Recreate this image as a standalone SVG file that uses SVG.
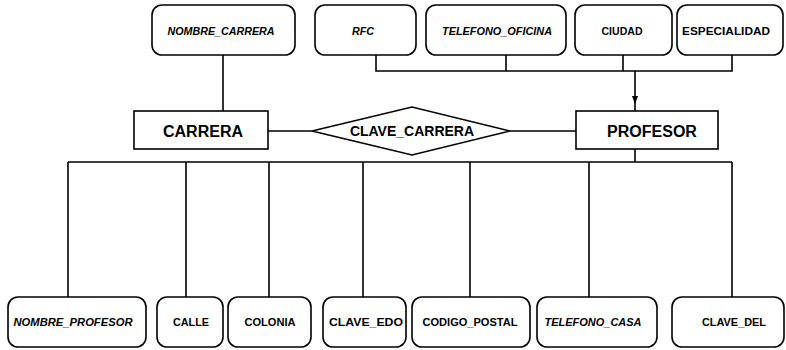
<svg xmlns="http://www.w3.org/2000/svg" width="786" height="350" viewBox="0 0 786 350">
<style>
.attr{fill:#fff;stroke:#000;stroke-width:1.6}
.ent{fill:#fff;stroke:#000;stroke-width:1.6}
.lt{font-family:"Liberation Sans",Arial,sans-serif;font-weight:bold;font-size:10.5px;fill:#000;text-anchor:middle}
.it{font-style:italic}
.et{font-family:"Liberation Sans",Arial,sans-serif;font-weight:bold;font-size:16px;fill:#000;text-anchor:middle}
.rt{font-family:"Liberation Sans",Arial,sans-serif;font-weight:bold;font-size:14px;fill:#000;text-anchor:middle}
.ln{fill:none;stroke:#000;stroke-width:1.6}
</style>
<rect width="786" height="350" fill="#fff"/>
<g id="connectors">
<path class="ln" d="M223,55 V112"/>
<path class="ln" d="M376,55 V71 H732 V55 M506,55 V71 M623,55 V71"/>
<path class="ln" d="M635,71 V111"/>
<polygon points="632,96 638,96 635,104" fill="#000"/>
<path class="ln" d="M268,131 H312 M510,131 H576"/>
<path class="ln" d="M635,149 V162 M68,162 H732 M68,162 V297 M186,162 V297 M269,162 V297 M363,162 V297 M470,162 V297 M589,162 V297 M732,162 V297"/>
</g>
<g id="nombre_carrera"><rect class="attr" x="152" y="5" width="143" height="50" rx="10"/><text class="lt it" x="221" y="35" textLength="107" lengthAdjust="spacingAndGlyphs">NOMBRE_CARRERA</text></g>
<g id="rfc"><rect class="attr" x="315" y="5" width="101" height="50" rx="10"/><text class="lt it" x="363" y="35" textLength="22" lengthAdjust="spacingAndGlyphs">RFC</text></g>
<g id="telefono_oficina"><rect class="attr" x="426" y="5" width="140" height="50" rx="10"/><text class="lt it" x="497" y="35" textLength="110" lengthAdjust="spacingAndGlyphs">TELEFONO_OFICINA</text></g>
<g id="ciudad"><rect class="attr" x="575" y="5" width="97" height="50" rx="10"/><text class="lt" x="622" y="35" textLength="41" lengthAdjust="spacingAndGlyphs">CIUDAD</text></g>
<g id="especialidad"><rect class="attr" x="677" y="5" width="106" height="50" rx="10"/><text class="lt" x="726" y="35" textLength="88" lengthAdjust="spacingAndGlyphs">ESPECIALIDAD</text></g>
<g id="carrera"><rect class="ent" x="134" y="111" width="134" height="38"/><text class="et" x="203" y="137">CARRERA</text></g>
<g id="clave_carrera"><polygon class="ent" points="312,131 412,107 510,131 412,155"/><text class="rt" x="412" y="136">CLAVE_CARRERA</text></g>
<g id="profesor"><rect class="ent" x="576" y="111" width="142" height="38"/><text class="et" x="652" y="137">PROFESOR</text></g>
<g id="nombre_profesor"><rect class="attr" x="8" y="297" width="138" height="50" rx="10"/><text class="lt it" x="73" y="326" textLength="119" lengthAdjust="spacingAndGlyphs">NOMBRE_PROFESOR</text></g>
<g id="calle"><rect class="attr" x="157" y="297" width="66" height="50" rx="10"/><text class="lt" x="191" y="326" textLength="36" lengthAdjust="spacingAndGlyphs">CALLE</text></g>
<g id="colonia"><rect class="attr" x="228" y="297" width="83" height="50" rx="10"/><text class="lt" x="270" y="326" textLength="51" lengthAdjust="spacingAndGlyphs">COLONIA</text></g>
<g id="clave_edo"><rect class="attr" x="323" y="297" width="83" height="50" rx="10"/><text class="lt" x="366" y="326" textLength="74" lengthAdjust="spacingAndGlyphs">CLAVE_EDO</text></g>
<g id="codigo_postal"><rect class="attr" x="412" y="297" width="118" height="50" rx="10"/><text class="lt" x="470" y="326" textLength="95" lengthAdjust="spacingAndGlyphs">CODIGO_POSTAL</text></g>
<g id="telefono_casa"><rect class="attr" x="537" y="297" width="120" height="50" rx="10"/><text class="lt it" x="593" y="326" textLength="97" lengthAdjust="spacingAndGlyphs">TELEFONO_CASA</text></g>
<g id="clave_del"><rect class="attr" x="672" y="297" width="112" height="50" rx="10"/><text class="lt" x="734" y="326" textLength="64" lengthAdjust="spacingAndGlyphs">CLAVE_DEL</text></g>
</svg>
